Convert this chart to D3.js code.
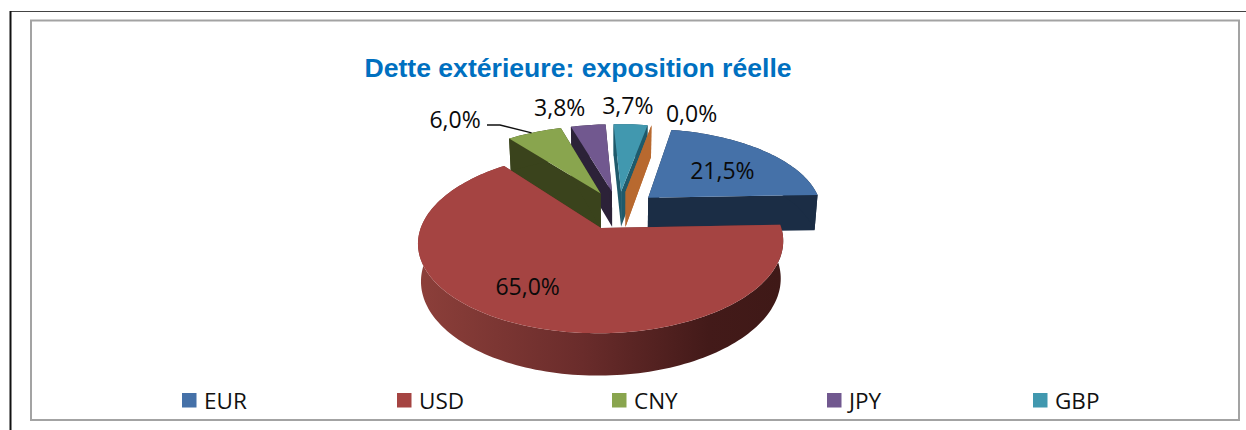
<!DOCTYPE html>
<html><head><meta charset="utf-8">
<script src="https://cdnjs.cloudflare.com/ajax/libs/d3/7.8.5/d3.min.js"></script>
<style>html,body{margin:0;padding:0;background:#fff}svg{display:block}</style></head>
<body><svg id="c" width="1246" height="430"></svg>
<script>
const categories=["EUR","USD","CNY","JPY","GBP",""];
const values=[21.5,65.0,6.0,3.8,3.7,0.0];
const labels=["21,5%","65,0%","6,0%","3,8%","3,7%","0,0%"];
const topColors=["#4571a8","#a54442","#89a54e","#71588f","#4198af","#b8692f"];
const wallColors=["#1b2d45","#6b2c2a","#3a431c","#2c2238","#1f5a6b","#b8692f"];
const legendXs=[182,397,612,827,1033];
const titleText="Dette extérieure: exposition réelle";
// layout
const cx=618.5,cy=210,R=174.5,K=83,d=6.5,e=0.23,H=36,shrink=0.015;
const svg=d3.select("#c");
const rad=a=>a*Math.PI/180;
const project=(u,v,z)=>{const s=d/(d-v),t=1-shrink*z;return [cx+R*u*s*t,cy+K*v*s*t+H*s*z];};
const line=d3.line();
const defs=svg.append("defs");
const g=defs.append("linearGradient").attr("id","redSide").attr("gradientUnits","userSpaceOnUse")
 .attr("x1",420).attr("x2",780).attr("y1",0).attr("y2",0);
[[0,"#8c3f3a"],[0.45,"#6a2c2b"],[0.8,"#431a19"],[1,"#3f1917"]].forEach(([o,c])=>g.append("stop").attr("offset",o).attr("stop-color",c));

// frame
svg.append("line").attr("x1",10).attr("x2",1246).attr("y1",11.5).attr("y2",11.5).attr("stroke","#444").attr("stroke-width",1.2);
svg.append("line").attr("x1",10.5).attr("x2",10.5).attr("y1",11).attr("y2",430).attr("stroke","#111").attr("stroke-width",2);
svg.append("rect").attr("x",31).attr("y",20.5).attr("width",1208).attr("height",399.5).attr("fill","#fff").attr("stroke","#a3a3a3").attr("stroke-width",2);

svg.append("text").attr("x",578).attr("y",77).attr("text-anchor","middle")
 .attr("font-family","Liberation Sans").attr("font-weight","bold").attr("font-size",26.6).attr("fill","#0070c0").text(titleText);

const pie=d3.pie().sort(null).value(d=>d).startAngle(rad(10.5)).endAngle(rad(370.5));
const arcs=pie(values).map((a,i)=>({...a,i}));
// painter order: back to front
const order=[4,5,3,2,0,1];
const gPie=svg.append("g");
order.forEach(i=>{
 const a=arcs[i],mid=(a.startAngle+a.endAngle)/2;
 const ou=Math.sin(mid)*e,ov=-Math.cos(mid)*e;
 const pt=(th,r,z)=>project(ou+r*Math.sin(th),ov-r*Math.cos(th),z);
 const n=Math.max(2,Math.ceil((a.endAngle-a.startAngle)/rad(1.5)));
 const ths=d3.range(n+1).map(k=>a.startAngle+(a.endAngle-a.startAngle)*k/n);
 const wall=i===1?"url(#redSide)":wallColors[i];
 const g=gPie.append("g");
 [a.startAngle,a.endAngle].forEach(th=>{
  g.append("path").attr("d",line([pt(th,0,0),pt(th,1,0),pt(th,1,1),pt(th,0,1)])+"Z").attr("fill",wallColors[i]);
 });
 if(a.value>0){
  g.append("path").attr("d",line([...ths.map(t=>pt(t,1,0)),...ths.slice().reverse().map(t=>pt(t,1,1))])+"Z").attr("fill",wall);
  g.append("path").attr("d",line([pt(a.startAngle,0,0),...ths.map(t=>pt(t,1,0))])+"Z").attr("fill",topColors[i]);
 }
});

// data labels
const labelFont="Open Sans";
const labelRadius=[0.62,0.62,1.5,1.4,1.35,1.35];
const labelShift=[[0.5,3],[-20,4.5],[-51.5,13.5],[-20.5,4.5],[-5.5,1.5],[32.5,8.5]];
arcs.forEach(a=>{
 const i=a.i,mid=(a.startAngle+a.endAngle)/2,r=labelRadius[i];
 const p=project(Math.sin(mid)*(e+r),-Math.cos(mid)*(e+r),0);
 svg.append("text").attr("x",p[0]+labelShift[i][0]).attr("y",p[1]+labelShift[i][1]).attr("dy","0.35em").attr("text-anchor","middle")
  .attr("font-family",labelFont).attr("font-size",23).attr("fill","#0a0a0a").text(labels[i]);
});
// leader
{const a=arcs[2],mid=(a.startAngle+a.endAngle)/2,th=a.startAngle+(a.endAngle-a.startAngle)*0.45;
 const o=[Math.sin(mid)*e,-Math.cos(mid)*e];
 const q=project(o[0]+Math.sin(th),o[1]-Math.cos(th),0);
 svg.append("path").attr("d",line([[487,125],[500,125],q])).attr("fill","none").attr("stroke","#111").attr("stroke-width",1.4);}
// legend
const leg=svg.append("g");
categories.filter(c=>c).forEach((c,i)=>{
 leg.append("rect").attr("x",legendXs[i]).attr("y",393).attr("width",14.5).attr("height",14.5).attr("fill",topColors[i]);
 leg.append("text").attr("x",legendXs[i]+22).attr("y",408.5).attr("font-family",labelFont).attr("font-size",22.5).attr("fill","#111").text(c);
});
</script></body></html>
